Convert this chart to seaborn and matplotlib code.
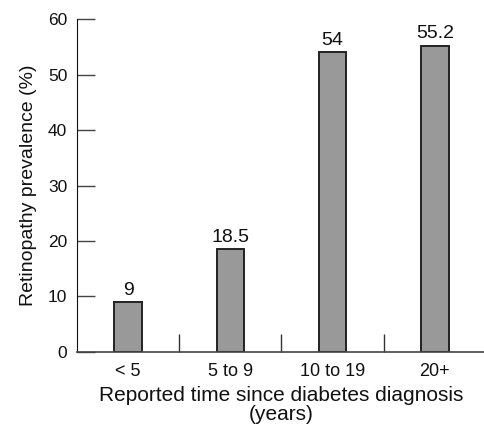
import seaborn as sns
import numpy as np
import matplotlib.pyplot as plt
from matplotlib.ticker import FixedLocator

# data
categories = ["< 5", "5 to 9", "10 to 19", "20+"]
prevalence = [9, 18.5, 54, 55.2]
bar_labels = ["9", "18.5", "54", "55.2"]
y_ticks = [0, 10, 20, 30, 40, 50, 60]

sns.set_style("ticks")
plt.rcParams['font.family'] = ['Liberation Sans', 'DejaVu Sans']

fig = plt.figure(figsize=(4.84, 4.25), dpi=100)
ax = fig.add_axes([0.159, 0.172, 0.845, 0.783])

sns.barplot(x=categories, y=prevalence, color="#999999", width=0.27,
            edgecolor="#222222", linewidth=1.4, saturation=1, ax=ax)

for i, (v, lab) in enumerate(zip(prevalence, bar_labels)):
  ax.text(i, v + 0.6, lab, ha="center", va="bottom", fontsize=14, color="#111111")

ax.set_xlim(-0.5, 3.5)
ax.set_ylim(0, 60)
ax.set_yticks(y_ticks)
ax.set_ylabel("Retinopathy prevalence (%)", fontsize=14, labelpad=8, color="#111111")
ax.set_xlabel("Reported time since diabetes diagnosis\n(years)", fontsize=15,
              labelpad=4, linespacing=1.0, color="#111111")

#separators between categories
ax.xaxis.set_minor_locator(FixedLocator([0.5, 1.5, 2.5]))
ax.tick_params(axis="x", which="major", length=0, pad=8, labelsize=13, labelcolor="#111111")
ax.tick_params(axis="x", which="minor", length=13, direction="in", width=1, color="#333333")
ax.tick_params(axis="y", which="major", length=13, direction="in", width=1,
               color="#444444", pad=7, labelsize=12.5, labelcolor="#111111")

sns.despine(ax=ax, top=True, right=True)
ax.spines["left"].set_color("#111111")
ax.spines["bottom"].set_color("#444444")
ax.spines["bottom"].set_linewidth(1.2)

plt.savefig("out.png", dpi=100)
